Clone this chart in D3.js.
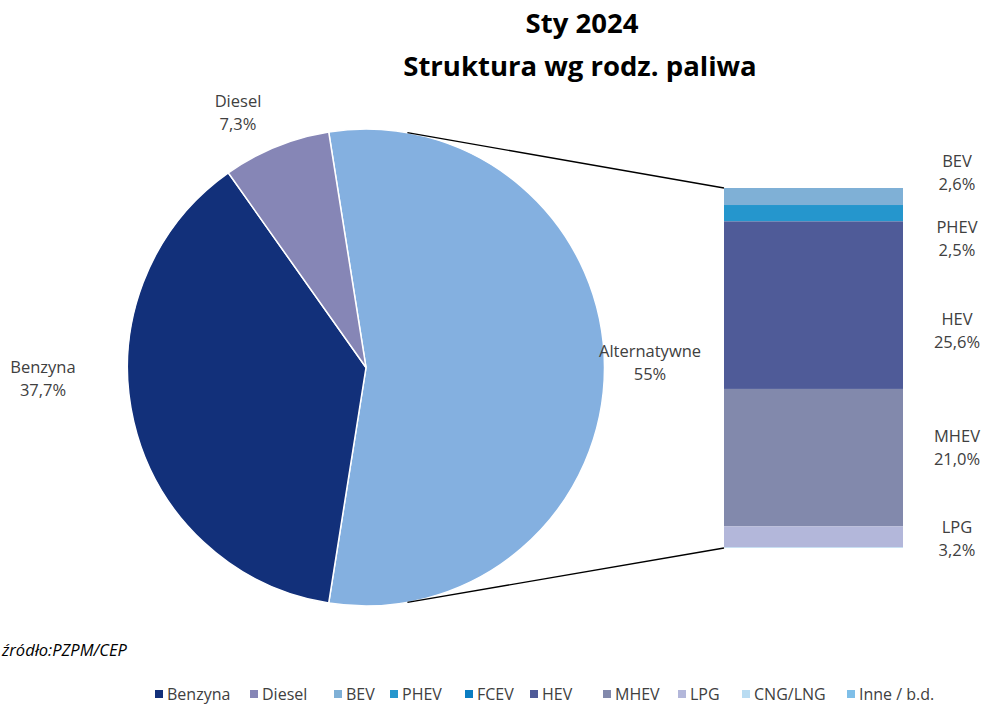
<!DOCTYPE html>
<html>
<head>
<meta charset="utf-8">
<script src="https://cdn.jsdelivr.net/npm/d3@7"></script>
<style>
body{margin:0;background:#fff;}
svg{display:block;font-family:"Open Sans",Lato,sans-serif;}
</style>
</head>
<body>
<svg id="chart" width="983" height="704"></svg>
<script>
// pie: main fuel split
const pieNames=['Alternatywne','Benzyna','Diesel'];
const pieValues=[55,37.7,7.3];
const pieLabels=['55%','37,7%','7,3%'];
const pieColors=['#84b0e0','#12307a','#8686b6'];

// bar: breakdown of "Alternatywne" (top to bottom)
const barNames=['BEV','PHEV','FCEV','HEV','MHEV','LPG','CNG/LNG','Inne / b.d.'];
const barValues=[2.6,2.5,0,25.6,21.0,3.2,0.1,0];
const barLabels=['2,6%','2,5%','','25,6%','21,0%','3,2%','',''];
const barColors=['#7fb0d6','#2596cd','#0a7dc2','#4f5b98','#8289ac','#b3b7da','#b9dcf2','#7fbfe8'];

const legendNames=['Benzyna','Diesel','BEV','PHEV','FCEV','HEV','MHEV','LPG','CNG/LNG','Inne / b.d.'];
const legendColors=['#12307a','#8686b6','#7fb0d6','#2596cd','#0a7dc2','#4f5b98','#8289ac','#b3b7da','#b9dcf2','#7fbfe8'];

const svg=d3.select('#chart');
const cx=366, cy=367.5, r=238.5;

// title
svg.append('text').attr('x',582).attr('y',33).attr('text-anchor','middle')
  .attr('font-size',27.5).attr('font-weight','bold').attr('fill','#000').text('Sty 2024');
svg.append('text').attr('x',580).attr('y',76).attr('text-anchor','middle')
  .attr('font-size',27.5).attr('font-weight','bold').attr('fill','#000').text('Struktura wg rodz. paliwa');

// pie
const pieData=pieValues.map((v,i)=>({name:pieNames[i],value:v,label:pieLabels[i],color:pieColors[i]}));
const half=pieValues[0]/100*Math.PI; // half of the alt slice span
const pie=d3.pie().sort(null).value(d=>d.value)
  .startAngle(Math.PI/2-half).endAngle(Math.PI/2-half+2*Math.PI);
const arc=d3.arc().innerRadius(0).outerRadius(r);
const g=svg.append('g').attr('transform','translate('+cx+','+cy+')');
g.selectAll('path').data(pie(pieData)).enter().append('path')
  .attr('d',arc).attr('fill',d=>d.data.color)
  .attr('stroke','#fff').attr('stroke-width',1.5);

// pie labels
const pieLabelPos={'Alternatywne':[650,357],'Benzyna':[43,373],'Diesel':[238,107]};
pieData.forEach(d=>{
  const p=pieLabelPos[d.name];
  const t=svg.append('text').attr('text-anchor','middle').attr('font-size',16.5).attr('fill','#404040');
  t.append('tspan').attr('x',p[0]).attr('y',p[1]).text(d.name);
  t.append('tspan').attr('x',p[0]).attr('y',p[1]+23).text(d.label);
});

// bar of alternatives
const barX=724, barW=179;
const total=d3.sum(barValues);
const y=d3.scaleLinear().domain([0,total]).range([188,548]);
let acc=0;
const segs=barValues.map((v,i)=>{const s={name:barNames[i],value:v,label:barLabels[i],color:barColors[i],y0:acc,y1:acc+v};acc+=v;return s;});
svg.selectAll('rect.seg').data(segs).enter().append('rect').attr('class','seg')
  .attr('x',barX).attr('width',barW)
  .attr('y',d=>y(d.y0)).attr('height',d=>y(d.y1)-y(d.y0))
  .attr('fill',d=>d.color);

// bar labels (manual nudge like the original)
const labelShift={'BEV':-26,'PHEV':24,'HEV':24,'MHEV':-12,'LPG':0};
segs.filter(d=>d.label).forEach(d=>{
  const my=(y(d.y0)+y(d.y1))/2+labelShift[d.name];
  const t=svg.append('text').attr('text-anchor','middle').attr('font-size',16.5).attr('fill','#404040');
  t.append('tspan').attr('x',957).attr('y',my-4).text(d.name);
  t.append('tspan').attr('x',957).attr('y',my+19).text(d.label);
});

// connector lines
const a1=Math.PI/2-80*Math.PI/180, a2=Math.PI/2+80*Math.PI/180;
[[a1,y(0)],[a2,y(total)]].forEach(c=>{
  svg.append('line')
    .attr('x1',cx+r*Math.sin(c[0])).attr('y1',cy-r*Math.cos(c[0]))
    .attr('x2',barX).attr('y2',c[1])
    .attr('stroke','#000').attr('stroke-width',1.3);
});

// source
svg.append('text').attr('x',2).attr('y',656).attr('font-size',16.5).attr('font-style','italic')
  .attr('fill','#000').text('źródło:PZPM/CEP');

// legend
const legX=[155,250,334,390,465,530,603,678,742,847];
const leg=svg.selectAll('g.leg').data(legendNames).enter().append('g').attr('class','leg')
  .attr('transform',(d,i)=>'translate('+legX[i]+',690)');
leg.append('rect').attr('width',8).attr('height',8).attr('y',0).attr('fill',(d,i)=>legendColors[i]);
leg.append('text').attr('x',12).attr('y',9.5).attr('font-size',16).attr('fill','#404040').text(d=>d);
</script>
</body>
</html>
